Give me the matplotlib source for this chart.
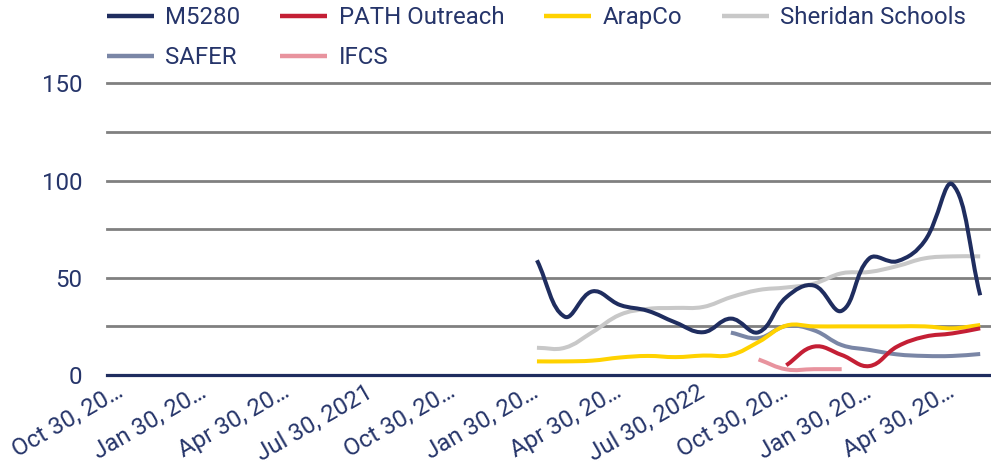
import numpy as np
import matplotlib
matplotlib.use("Agg")
import matplotlib.pyplot as plt
from matplotlib.path import Path
from matplotlib.patches import PathPatch
from matplotlib.lines import Line2D

plt.rcParams['font.family'] = ['Roboto', 'DejaVu Sans']

# ---- data ----
months = ["Oct 2020", "Nov 2020", "Dec 2020", "Jan 2021", "Feb 2021", "Mar 2021",
          "Apr 2021", "May 2021", "Jun 2021", "Jul 2021", "Aug 2021", "Sep 2021",
          "Oct 2021", "Nov 2021", "Dec 2021", "Jan 2022", "Feb 2022", "Mar 2022",
          "Apr 2022", "May 2022", "Jun 2022", "Jul 2022", "Aug 2022", "Sep 2022",
          "Oct 2022", "Nov 2022", "Dec 2022", "Jan 2023", "Feb 2023", "Mar 2023",
          "Apr 2023", "May 2023"]
tick_labels = ["Oct 30, 20…", "Jan 30, 20…", "Apr 30, 20…", "Jul 30, 2021",
               "Oct 30, 20…", "Jan 30, 20…", "Apr 30, 20…", "Jul 30, 2022",
               "Oct 30, 20…", "Jan 30, 20…", "Apr 30, 20…"]

m5280_start = "Jan 2022"
m5280 = [59, 30, 43, 36, 33, 27, 22, 29, 22, 40, 46, 33, 60, 58.5, 69, 98, 41]
path_start = "Oct 2022"
path_outreach = [5, 14.6, 10.3, 4.6, 14.6, 19.7, 21.4, 24]
arapco_start = "Jan 2022"
arapco = [7, 7, 7.4, 9, 9.8, 9.2, 10, 10.3, 17, 25.4, 25, 25, 25, 25, 25, 24, 25.7]
sheridan_start = "Jan 2022"
sheridan = [14, 14, 22, 31, 34, 34.5, 35, 40, 43.7, 45, 47, 52.3, 53, 56, 60, 61, 61]
safer_start = "Aug 2022"
safer = [21.8, 19, 25.2, 23, 15.4, 12.9, 10.6, 9.8, 9.8, 10.8]
ifcs_start = "Sep 2022"
ifcs = [8, 2.9, 3, 3]

series = [
    ("M5280", m5280_start, m5280, "#1f2d5f"),
    ("PATH Outreach", path_start, path_outreach, "#c41f35"),
    ("ArapCo", arapco_start, arapco, "#ffd200"),
    ("Sheridan Schools", sheridan_start, sheridan, "#c8c8c8"),
    ("SAFER", safer_start, safer, "#7a86a6"),
    ("IFCS", ifcs_start, ifcs, "#e8939e"),
]

text_color = "#26356a"
W, H = 991, 466
fig = plt.figure(figsize=(W / 100, H / 100), dpi=100)
ax = fig.add_axes([107 / W, (H - 375) / H, (W - 107) / W, (375 - 83.3) / H])
ax.set_xlim(-0.52, 31.39)
ax.set_ylim(0, 150)

# pixel scale for chart.js-like spline distances
sx = 27.7
sy = 1.944


def spline_path(xs, ys, t=0.4):
    xs = np.asarray(xs, float)
    ys = np.asarray(ys, float)
    n = len(xs)
    px, py = xs * sx, ys * sy
    cps_prev = []
    cps_next = []
    for i in range(n):
        pi = max(i - 1, 0)
        ni = min(i + 1, n - 1)
        d01 = np.hypot(px[i] - px[pi], py[i] - py[pi])
        d12 = np.hypot(px[ni] - px[i], py[ni] - py[i])
        tot = d01 + d12
        s01 = d01 / tot if tot > 0 else 0
        s12 = d12 / tot if tot > 0 else 0
        fa, fb = t * s01, t * s12
        dx = px[ni] - px[pi]
        dy = py[ni] - py[pi]
        cps_prev.append((px[i] - fa * dx, py[i] - fa * dy))
        cps_next.append((px[i] + fb * dx, py[i] + fb * dy))
    verts = [(xs[0], ys[0])]
    codes = [Path.MOVETO]
    for i in range(n - 1):
        c1 = cps_next[i]
        c2 = cps_prev[i + 1]
        verts += [(c1[0] / sx, c1[1] / sy), (c2[0] / sx, c2[1] / sy), (xs[i + 1], ys[i + 1])]
        codes += [Path.CURVE4] * 3
    return Path(verts, codes)


# grid
for g in [25, 50, 75, 100, 125, 150]:
    ax.axhline(g, color="#808080", lw=2.0, zorder=1, clip_on=False)

handles = {}
for k, (name, start, vals, col) in enumerate(series):
    i0 = months.index(start)
    xs = np.arange(i0, i0 + len(vals))
    p = spline_path(xs, vals)
    patch = PathPatch(p, facecolor="none", edgecolor=col, lw=2.9, zorder=10 - k,
                      capstyle="butt", joinstyle="round")
    ax.add_patch(patch)
    handles[name] = Line2D([0], [0], color=col, lw=3.2, solid_capstyle="butt", label=name)

ax.axhline(0, color="#1f2d5f", lw=2.3, zorder=12, clip_on=False)

for s in ax.spines.values():
    s.set_visible(False)

ax.set_yticks([0, 50, 100, 150])
ax.set_yticklabels(["0", "50", "100", "150"])
ax.tick_params(axis="y", length=0, pad=18, labelsize=17.3, labelcolor=text_color)

ax.set_xticks(np.arange(0, 31, 3))
ax.set_xticklabels(tick_labels)
ax.tick_params(axis="x", length=0, pad=11, labelsize=17.3, labelcolor=text_color)
for lab in ax.get_xticklabels():
    lab.set_rotation(30)
    lab.set_ha("right")
    lab.set_va("center")
    lab.set_rotation_mode("anchor")

# legend: matplotlib fills column-wise, order so rows read like the reference
order = ["M5280", "SAFER", "PATH Outreach", "IFCS", "ArapCo", "Sheridan Schools"]
leg = fig.legend(handles=[handles[n] for n in order], loc="upper left",
                 bbox_to_anchor=(107 / W, 1 - 6 / H),
                 ncol=4, frameon=False, fontsize=17.3, handlelength=1.96,
                 handletextpad=0.46, columnspacing=1.67, labelspacing=0.72,
                 borderpad=0, borderaxespad=0)
for t in leg.get_texts():
    t.set_color(text_color)

fig.savefig("out.png", dpi=100)
